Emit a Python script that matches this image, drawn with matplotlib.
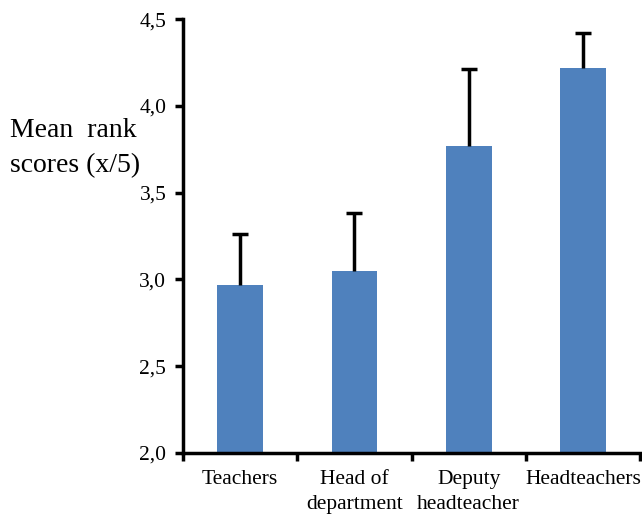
import matplotlib
matplotlib.use("Agg")
import matplotlib.pyplot as plt
from matplotlib.ticker import FuncFormatter, FixedLocator, NullFormatter

categories = ["Teachers", "Head of\ndepartment", "Deputy\nheadteacher", "Headteachers"]
means = [2.97, 3.05, 3.77, 4.22]
upper_err = [0.29, 0.33, 0.44, 0.20]
yticks = [2.0, 2.5, 3.0, 3.5, 4.0, 4.5]

plt.rcParams['font.family'] = ['Liberation Serif', 'DejaVu Serif']

fig = plt.figure(figsize=(6.42, 5.17), dpi=100)
ax = fig.add_axes([0.285, 0.124, 0.712, 0.839])

x = list(range(len(categories)))
ax.bar(x, means, width=0.4, color="#4F81BD", zorder=2)
_, caps, _ = ax.errorbar(x, means, yerr=[[0]*len(means), upper_err], fmt="none",
                         ecolor="black", elinewidth=2.5, capsize=6, capthick=2.5, zorder=3)
caps[0].set_visible(False)

ax.set_xlim(-0.5, len(categories) - 0.5)
ax.set_ylim(2.0, 4.5)
ax.set_yticks(yticks)
ax.yaxis.set_major_formatter(FuncFormatter(lambda v, p: f"{v:.1f}".replace(".", ",")))

# category boundary ticks on x axis
ax.xaxis.set_major_locator(FixedLocator([i - 0.5 for i in range(len(categories) + 1)]))
ax.xaxis.set_major_formatter(NullFormatter())
ax.xaxis.set_minor_locator(FixedLocator(x))
ax.set_xticklabels(categories, minor=True, linespacing=1.45)
ax.tick_params(axis="x", which="minor", length=0, labelsize=15.5, pad=12)
ax.tick_params(axis="x", which="major", length=6, width=2.5, direction="out")
ax.tick_params(axis="y", length=6, width=2.5, direction="out", labelsize=15.5, pad=6)

for s in ["top", "right"]:
    ax.spines[s].set_visible(False)
for s in ["left", "bottom"]:
    ax.spines[s].set_linewidth(2.5)

fig.text(10/642, 1 - 148/517, "Mean  rank\nscores (x/5)", fontsize=20,
         ha="left", va="center", linespacing=1.5)

fig.savefig("out.png", dpi=100)
